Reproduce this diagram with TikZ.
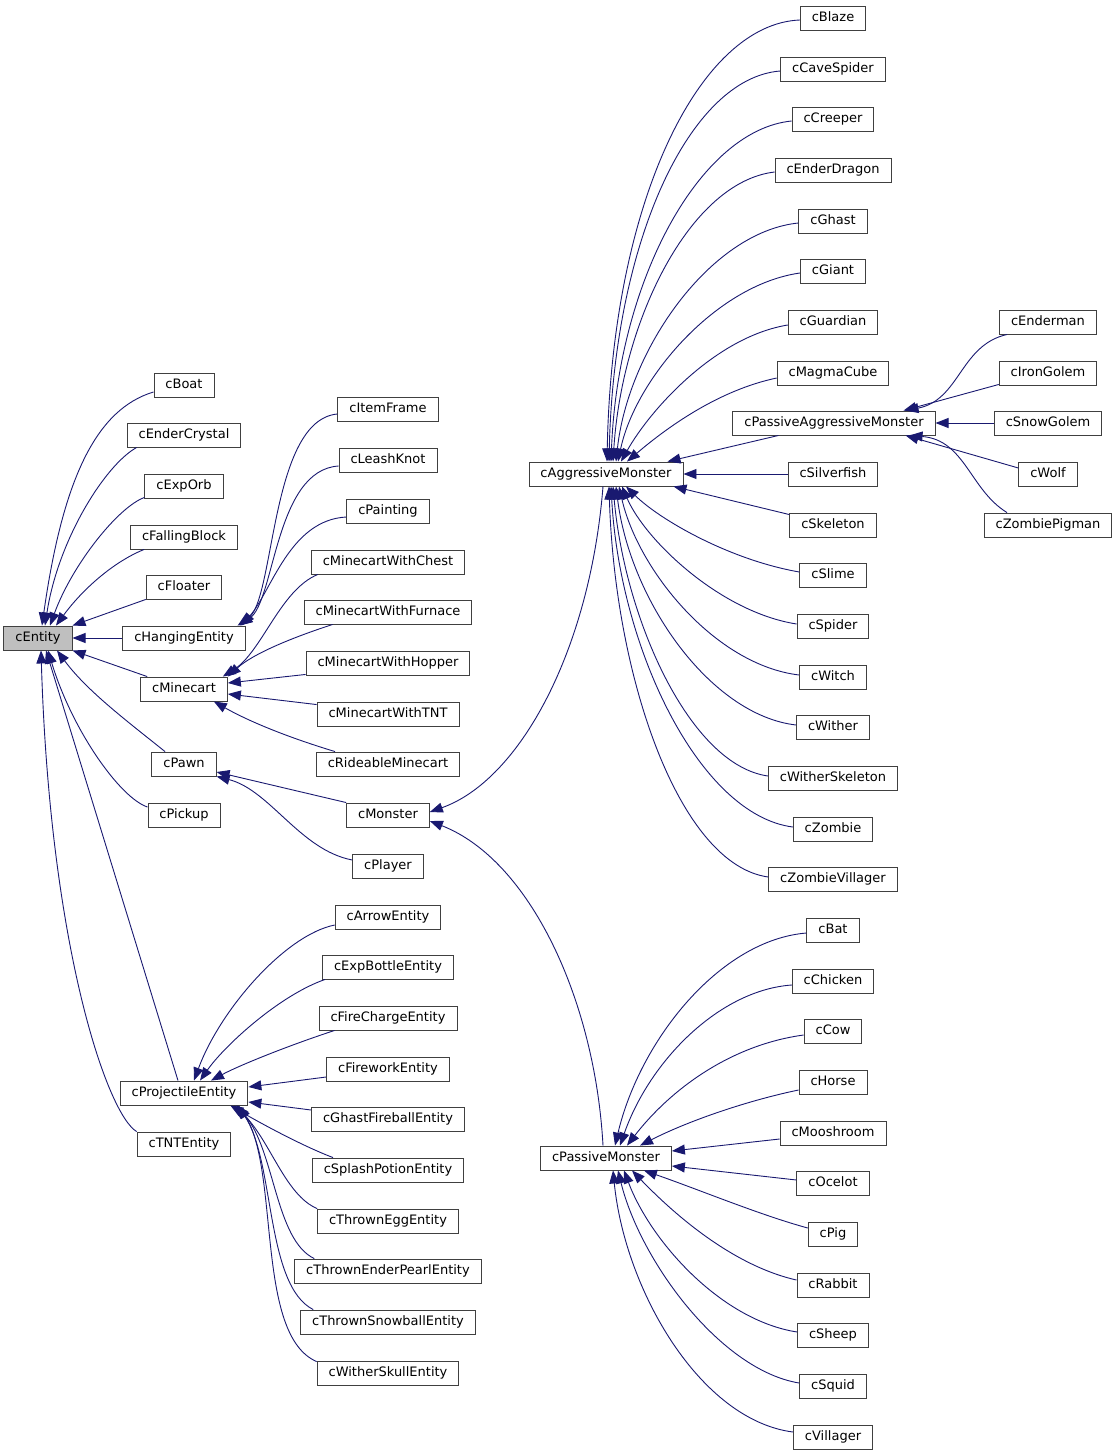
\documentclass[tikz,border=0pt]{standalone}
\usepackage{fontspec}
\setmainfont{DejaVu Sans}
\usetikzlibrary{arrows.meta}
\definecolor{edgeblue}{HTML}{191970}
\definecolor{boxline}{HTML}{404040}
\definecolor{rootfill}{HTML}{BFBFBF}
\tikzset{
  cls/.style={draw=boxline, line width=0.9pt, fill=white, minimum height=24pt,
    inner xsep=11.5pt, inner ysep=0pt, text height=9.8pt, text depth=2.2pt,
    font=\fontsize{13pt}{15pt}\selectfont},
  rootcls/.style={cls, fill=rootfill},
  inh/.style={draw=edgeblue, line width=0.9pt, -{Triangle[length=13pt,width=10pt]}},
}
\begin{document}
\begin{tikzpicture}[x=1pt,y=-1pt]
\useasboundingbox (0,0) rectangle (1117,1456);
% left column
\node[rootcls] (cEntity) at (38,638) {cEntity};
\node[cls] (cBoat) at (184,385) {cBoat};
\node[cls] (cEnderCrystal) at (184,435) {cEnderCrystal};
\node[cls] (cExpOrb) at (184,486) {cExpOrb};
\node[cls] (cFallingBlock) at (184,537) {cFallingBlock};
\node[cls] (cFloater) at (184,587) {cFloater};
\node[cls] (cHangingEntity) at (184,638) {cHangingEntity};
\node[cls] (cMinecart) at (184,689) {cMinecart};
\node[cls] (cPawn) at (184,764) {cPawn};
\node[cls] (cPickup) at (184,815) {cPickup};
\node[cls] (cProjectileEntity) at (184,1093) {cProjectileEntity};
\node[cls] (cTNTEntity) at (184,1144) {cTNTEntity};
% middle column
\node[cls] (cItemFrame) at (388,409) {cItemFrame};
\node[cls] (cLeashKnot) at (388,460) {cLeashKnot};
\node[cls] (cPainting) at (388,511) {cPainting};
\node[cls] (cMinecartWithChest) at (388,562) {cMinecartWithChest};
\node[cls] (cMinecartWithFurnace) at (388,612) {cMinecartWithFurnace};
\node[cls] (cMinecartWithHopper) at (388,663) {cMinecartWithHopper};
\node[cls] (cMinecartWithTNT) at (388,714) {cMinecartWithTNT};
\node[cls] (cRideableMinecart) at (388,764) {cRideableMinecart};
\node[cls] (cMonster) at (388,815) {cMonster};
\node[cls] (cPlayer) at (388,866) {cPlayer};
\node[cls] (cArrowEntity) at (388,917) {cArrowEntity};
\node[cls] (cExpBottleEntity) at (388,967) {cExpBottleEntity};
\node[cls] (cFireChargeEntity) at (388,1018) {cFireChargeEntity};
\node[cls] (cFireworkEntity) at (388,1069) {cFireworkEntity};
\node[cls] (cGhastFireballEntity) at (388,1119) {cGhastFireballEntity};
\node[cls] (cSplashPotionEntity) at (388,1170) {cSplashPotionEntity};
\node[cls] (cThrownEggEntity) at (388,1221) {cThrownEggEntity};
\node[cls] (cThrownEnderPearlEntity) at (388,1271) {cThrownEnderPearlEntity};
\node[cls] (cThrownSnowballEntity) at (388,1322) {cThrownSnowballEntity};
\node[cls] (cWitherSkullEntity) at (388,1373) {cWitherSkullEntity};
% monsters
\node[cls] (cAggressiveMonster) at (606,474) {cAggressiveMonster};
\node[cls] (cPassiveMonster) at (606,1158) {cPassiveMonster};
% right column
\node[cls] (cBlaze) at (833,18) {cBlaze};
\node[cls] (cCaveSpider) at (833,69) {cCaveSpider};
\node[cls] (cCreeper) at (833,119) {cCreeper};
\node[cls] (cEnderDragon) at (833,170) {cEnderDragon};
\node[cls] (cGhast) at (833,221) {cGhast};
\node[cls] (cGiant) at (833,271) {cGiant};
\node[cls] (cGuardian) at (833,322) {cGuardian};
\node[cls] (cMagmaCube) at (833,373) {cMagmaCube};
\node[cls] (cPassiveAggressiveMonster) at (834,423) {cPassiveAggressiveMonster};
\node[cls] (cSilverfish) at (833,474) {cSilverfish};
\node[cls] (cSkeleton) at (833,525) {cSkeleton};
\node[cls] (cSlime) at (833,575) {cSlime};
\node[cls] (cSpider) at (833,626) {cSpider};
\node[cls] (cWitch) at (833,677) {cWitch};
\node[cls] (cWither) at (833,727) {cWither};
\node[cls] (cWitherSkeleton) at (833,778) {cWitherSkeleton};
\node[cls] (cZombie) at (833,829) {cZombie};
\node[cls] (cZombieVillager) at (833,879) {cZombieVillager};
\node[cls] (cBat) at (833,930) {cBat};
\node[cls] (cChicken) at (833,981) {cChicken};
\node[cls] (cCow) at (833,1031) {cCow};
\node[cls] (cHorse) at (833,1082) {cHorse};
\node[cls] (cMooshroom) at (833,1133) {cMooshroom};
\node[cls] (cOcelot) at (833,1183) {cOcelot};
\node[cls] (cPig) at (833,1234) {cPig};
\node[cls] (cRabbit) at (833,1285) {cRabbit};
\node[cls] (cSheep) at (833,1335) {cSheep};
\node[cls] (cSquid) at (833,1386) {cSquid};
\node[cls] (cVillager) at (833,1437) {cVillager};
% far right
\node[cls] (cEnderman) at (1048,322) {cEnderman};
\node[cls] (cIronGolem) at (1048,373) {cIronGolem};
\node[cls] (cSnowGolem) at (1048,423) {cSnowGolem};
\node[cls] (cWolf) at (1048,474) {cWolf};
\node[cls] (cZombiePigman) at (1048,525) {cZombiePigman};

% ---- edges to cEntity
\draw[inh] ([yshift=-7pt]cBoat.west) .. controls (97,409) and (63,477) .. ([xshift=4pt]cEntity.north);
\draw[inh] ([xshift=10pt]cEnderCrystal.south west) .. controls (105,465) and (58,540) .. ([xshift=7pt]cEntity.north);
\draw[inh] ([yshift=1pt]cExpOrb.south west) .. controls (118,507) and (72,565) .. ([xshift=12pt]cEntity.north);
\draw[inh] ([xshift=14pt]cFallingBlock.south west) .. controls (113,562) and (82,590) .. ([xshift=18pt]cEntity.north);
\draw[inh] (cFloater.south west) -- (cEntity.north east);
\draw[inh] (cHangingEntity.west) -- (cEntity.east);
\draw[inh] ([xshift=7pt]cMinecart.north west) -- (cEntity.south east);
\draw[inh] ([xshift=-19pt]cPawn.north) .. controls (127,721) and (87,691) .. ([xshift=19pt]cEntity.south);
\draw[inh] ([yshift=8pt]cPickup.west) .. controls (120,798) and (72,730) .. ([xshift=10pt]cEntity.south);
\draw[inh] ([xshift=-6pt]cProjectileEntity.north) -- ([xshift=8pt]cEntity.south);
\draw[inh] (cTNTEntity.north west) .. controls (108,1115) and (50,950) .. ([xshift=3pt]cEntity.south);

% ---- edges to cHangingEntity
\draw[inh] ([yshift=-5pt]cItemFrame.west) .. controls (270,420) and (275,600) .. ([xshift=-8pt]cHangingEntity.north east);
\draw[inh] ([yshift=-6pt]cLeashKnot.west) .. controls (275,470) and (275,600) .. ([xshift=-6pt]cHangingEntity.north east);
\draw[inh] ([yshift=-6pt]cPainting.west) .. controls (290,520) and (272,590) .. ([xshift=-4pt]cHangingEntity.north east);

% ---- edges to cMinecart
\draw[inh] ([xshift=7pt]cMinecartWithChest.south west) .. controls (280,590) and (262,652) .. ([xshift=-5pt]cMinecart.north east);
\draw[inh] ([xshift=29pt]cMinecartWithFurnace.south west) .. controls (300,635) and (255,652) .. (cMinecart.north east);
\draw[inh] ([yshift=1pt]cMinecartWithHopper.south west) -- ([yshift=6pt]cMinecart.east);
\draw[inh] ([yshift=-3pt]cMinecartWithTNT.north west) -- ([yshift=-5pt]cMinecart.east);
\draw[inh] ([xshift=-53pt]cRideableMinecart.north) .. controls (290,738) and (250,722) .. ([xshift=-14pt]cMinecart.south east);

% ---- edges to cPawn
\draw[inh] (cMonster.north west) -- ([yshift=-8pt]cPawn.east);
\draw[inh] ([yshift=6pt]cPlayer.west) .. controls (300,850) and (270,790) .. (cPawn.south east);

% ---- edges to cMonster
\draw[inh] ([xshift=-3pt]cAggressiveMonster.south) .. controls (590,650) and (520,780) .. ([yshift=3pt]cMonster.east);
\draw[inh] ([xshift=-3pt]cPassiveMonster.north) .. controls (595,1000) and (530,860) .. ([yshift=-6pt]cMonster.east);

% ---- edges to cAggressiveMonster
\draw[inh] ([yshift=-2pt]cBlaze.west) .. controls (700,24) and (612,200) .. ([xshift=1pt]cAggressiveMonster.north);
\draw[inh] ([yshift=-2pt]cCaveSpider.west) .. controls (690,78) and (614,240) .. ([xshift=3pt]cAggressiveMonster.north);
\draw[inh] ([yshift=-2pt]cCreeper.west) .. controls (700,130) and (618,280) .. ([xshift=5pt]cAggressiveMonster.north);
\draw[inh] ([yshift=-2pt]cEnderDragon.west) .. controls (690,182) and (622,320) .. ([xshift=7pt]cAggressiveMonster.north);
\draw[inh] ([yshift=-2pt]cGhast.west) .. controls (710,232) and (628,350) .. ([xshift=10pt]cAggressiveMonster.north);
\draw[inh] ([yshift=-2pt]cGiant.west) .. controls (715,285) and (635,380) .. ([xshift=12pt]cAggressiveMonster.north);
\draw[inh] ([yshift=-3pt]cGuardian.west) .. controls (715,337) and (650,410) .. ([xshift=15pt]cAggressiveMonster.north);
\draw[inh] ([yshift=-5pt]cMagmaCube.west) .. controls (720,390) and (670,425) .. ([xshift=21pt]cAggressiveMonster.north);
\draw[inh] ([xshift=46pt]cPassiveAggressiveMonster.south west) -- ([xshift=-16pt]cAggressiveMonster.north east);
\draw[inh] (cSilverfish.west) -- (cAggressiveMonster.east);
\draw[inh] ([yshift=-2pt]cSkeleton.north west) -- ([xshift=-10pt]cAggressiveMonster.south east);
\draw[inh] ([yshift=3pt]cSlime.west) .. controls (730,560) and (660,520) .. ([xshift=20pt]cAggressiveMonster.south);
\draw[inh] ([yshift=2pt]cSpider.west) .. controls (720,612) and (645,540) .. ([xshift=16pt]cAggressiveMonster.south);
\draw[inh] ([yshift=2pt]cWitch.west) .. controls (715,665) and (638,570) .. ([xshift=13pt]cAggressiveMonster.south);
\draw[inh] ([yshift=2pt]cWither.west) .. controls (710,715) and (630,600) .. ([xshift=10pt]cAggressiveMonster.south);
\draw[inh] ([yshift=2pt]cWitherSkeleton.west) .. controls (690,765) and (625,620) .. ([xshift=7pt]cAggressiveMonster.south);
\draw[inh] ([yshift=2pt]cZombie.west) .. controls (700,815) and (620,650) .. ([xshift=5pt]cAggressiveMonster.south);
\draw[inh] ([yshift=2pt]cZombieVillager.west) .. controls (680,865) and (615,680) .. ([xshift=3pt]cAggressiveMonster.south);

% ---- edges to cPassiveAggressiveMonster
\draw[inh] ([xshift=8pt]cEnderman.south west) .. controls (960,345) and (960,400) .. ([xshift=-30pt]cPassiveAggressiveMonster.north east);
\draw[inh] ([yshift=1pt]cIronGolem.south west) -- ([xshift=-32pt]cPassiveAggressiveMonster.north east);
\draw[inh] (cSnowGolem.west) -- (cPassiveAggressiveMonster.east);
\draw[inh] ([yshift=6pt]cWolf.west) -- ([xshift=-30pt]cPassiveAggressiveMonster.south east);
\draw[inh] ([xshift=-41pt]cZombiePigman.north) .. controls (970,490) and (965,440) .. ([xshift=-26pt]cPassiveAggressiveMonster.south east);

% ---- edges to cProjectileEntity
\draw[inh] ([yshift=-8pt]cArrowEntity.west) .. controls (285,935) and (220,1010) .. ([xshift=10pt]cProjectileEntity.north);
\draw[inh] ([xshift=3pt]cExpBottleEntity.south west) .. controls (280,995) and (225,1045) .. ([xshift=16pt]cProjectileEntity.north);
\draw[inh] ([xshift=16pt]cFireChargeEntity.south west) .. controls (290,1045) and (240,1065) .. ([xshift=27pt]cProjectileEntity.north);
\draw[inh] ([yshift=-8pt]cFireworkEntity.west) -- ([yshift=6pt]cProjectileEntity.east);
\draw[inh] ([yshift=9pt]cGhastFireballEntity.west) -- ([yshift=-9pt]cProjectileEntity.east);
\draw[inh] ([xshift=-55pt]cSplashPotionEntity.north) .. controls (300,1145) and (255,1120) .. ([xshift=-18pt]cProjectileEntity.south east);
\draw[inh] (cThrownEggEntity.north west) .. controls (285,1195) and (270,1140) .. ([xshift=-14pt]cProjectileEntity.south east);
\draw[inh] ([xshift=20pt]cThrownEnderPearlEntity.north west) .. controls (275,1240) and (275,1150) .. ([xshift=-12pt]cProjectileEntity.south east);
\draw[inh] ([xshift=13pt]cThrownSnowballEntity.north west) .. controls (265,1285) and (275,1160) .. ([xshift=-11pt]cProjectileEntity.south east);
\draw[inh] ([yshift=-1pt]cWitherSkullEntity.north west) .. controls (255,1335) and (280,1170) .. ([xshift=-10pt]cProjectileEntity.south east);

% ---- edges to cPassiveMonster
\draw[inh] ([yshift=-3pt]cBat.west) .. controls (720,940) and (640,1040) .. ([xshift=9pt]cPassiveMonster.north);
\draw[inh] ([yshift=-4pt]cChicken.west) .. controls (720,990) and (650,1060) .. ([xshift=14pt]cPassiveMonster.north);
\draw[inh] ([yshift=-4pt]cCow.west) .. controls (730,1045) and (670,1090) .. ([xshift=21pt]cPassiveMonster.north);
\draw[inh] ([yshift=-8pt]cHorse.west) .. controls (750,1100) and (690,1120) .. ([xshift=34pt]cPassiveMonster.north);
\draw[inh] ([yshift=-6pt]cMooshroom.west) -- ([yshift=7pt]cPassiveMonster.east);
\draw[inh] ([yshift=3pt]cOcelot.west) -- ([yshift=-8pt]cPassiveMonster.east);
\draw[inh] ([yshift=6pt]cPig.west) .. controls (760,1215) and (700,1190) .. ([xshift=-28pt]cPassiveMonster.south east);
\draw[inh] ([yshift=5pt]cRabbit.west) .. controls (730,1265) and (670,1210) .. ([xshift=26pt]cPassiveMonster.south);
\draw[inh] ([yshift=3pt]cSheep.west) .. controls (720,1320) and (650,1240) .. ([xshift=18pt]cPassiveMonster.south);
\draw[inh] ([yshift=3pt]cSquid.west) .. controls (720,1370) and (640,1260) .. ([xshift=12pt]cPassiveMonster.south);
\draw[inh] ([yshift=5pt]cVillager.west) .. controls (700,1420) and (625,1290) .. ([xshift=7pt]cPassiveMonster.south);
\end{tikzpicture}
\end{document}
